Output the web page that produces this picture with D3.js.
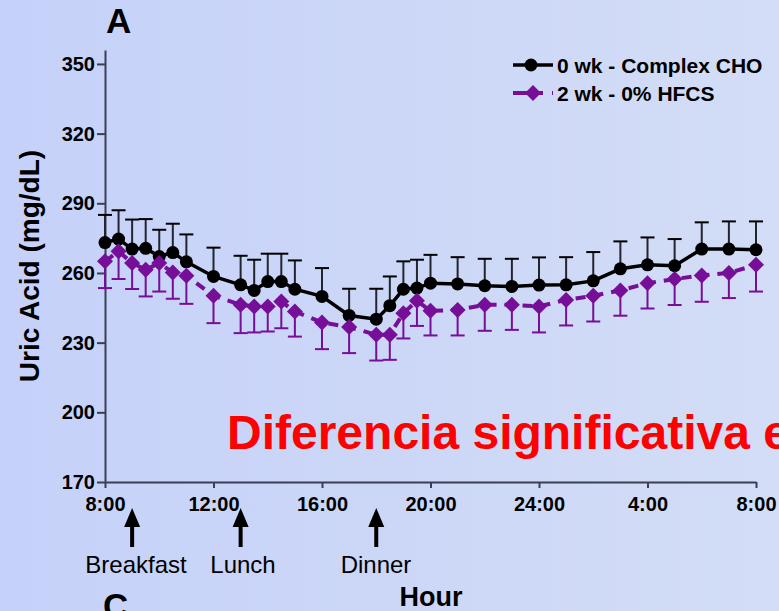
<!DOCTYPE html>
<html>
<head>
<meta charset="utf-8">
<script src="https://cdn.jsdelivr.net/npm/d3@7/dist/d3.min.js"></script>
<style>
  html, body { margin: 0; padding: 0; }
  svg { display: block; }
  text { font-family: "Liberation Sans", Arial, sans-serif; }
</style>
</head>
<body>
<script>
// Hours after 8:00 at which uric acid was sampled
const hours = [0, 0.5, 1, 1.5, 2, 2.5, 3, 4, 5, 5.5, 6, 6.5, 7, 8, 9, 10, 10.5, 11, 11.5,
               12, 13, 14, 15, 16, 17, 18, 19, 20, 21, 22, 23, 24];

// 0 wk - Complex CHO: mean and SEM (mg/dL)
const complexMean = [273.1, 274.6, 270.3, 270.6, 267.1, 268.8, 264.8, 258.5, 254.9, 252.5, 256.3, 256.3, 253.0,
                     249.9, 241.7, 240.1, 245.9, 253.0, 253.5, 255.6, 255.3, 254.5, 254.2, 254.8, 254.9, 256.6,
                     261.8, 263.5, 263.1, 270.3, 270.3, 270.0];
const complexSem  = [11.9, 12.4, 12.7, 12.6, 11.5, 12.4, 11.8, 12.4, 12.5, 13.2, 12.0, 12.0, 12.4,
                     12.2, 11.5, 13.1, 12.6, 12.0, 12.2, 12.2, 11.5, 11.6, 11.9, 11.9, 11.9, 12.4,
                     11.8, 11.8, 11.5, 11.5, 11.9, 12.2];

// 2 wk - 0% HFCS: mean and SEM (mg/dL)
const hfcsMean = [265.0, 269.3, 264.3, 261.4, 264.3, 260.2, 258.8, 250.2, 246.3, 245.6, 245.6, 247.7, 243.4,
                  238.7, 236.7, 233.4, 233.4, 242.7, 248.0, 243.7, 244.1, 246.3, 246.3, 245.6, 248.4, 250.2,
                  252.5, 255.6, 257.4, 258.9, 260.0, 263.5];
const hfcsSem  = [11.5, 11.9, 11.2, 11.5, 12.3, 11.3, 12.1, 11.8, 12.2, 11.2, 10.8, 11.5, 10.8,
                  11.5, 11.2, 11.1, 10.8, 10.9, 10.8, 10.6, 11.0, 11.2, 10.8, 11.2, 11.0, 11.1,
                  10.9, 10.9, 11.2, 11.3, 10.8, 11.5];

// Axis ticks
const xTickHours  = [0, 4, 8, 12, 16, 20, 24];
const xTickLabels = ["8:00", "12:00", "16:00", "20:00", "24:00", "4:00", "8:00"];
const yTicks = [170, 200, 230, 260, 290, 320, 350];

// Meals marked under the axis
const mealNames = ["Breakfast", "Lunch", "Dinner"];
const mealHours = [1, 5, 10];

const seriesNames = ["0 wk - Complex CHO", "2 wk - 0% HFCS"];

const W = 779, H = 611;
const BLACK = "#000000", PURPLE = "#770e98", AXIS = "#3b3f52";

const svg = d3.select("body").append("svg")
  .attr("width", W).attr("height", H);

const defs = svg.append("defs");
const grad = defs.append("linearGradient").attr("id", "bg")
  .attr("x1", "0").attr("y1", "0").attr("x2", "1").attr("y2", "0");
grad.append("stop").attr("offset", "0").attr("stop-color", "#c5d1f9");
grad.append("stop").attr("offset", "1").attr("stop-color", "#d3ddf6");
svg.append("rect").attr("width", W).attr("height", H).attr("fill", "url(#bg)");

const x = d3.scaleLinear().domain([0, 24]).range([105, 756]);
const y = d3.scaleLinear().domain([170, 356]).range([482, 50]);

// Panel letters
svg.append("text").attr("x", 106).attr("y", 33)
  .attr("font-size", 35).attr("font-weight", "bold").text("A");
svg.append("text").attr("x", 103).attr("y", 618)
  .attr("font-size", 35).attr("font-weight", "bold").text("C");

// Axes
const yAxis = svg.append("g").attr("transform", "translate(105,0)")
  .call(d3.axisLeft(y).tickValues(yTicks).tickSize(8).tickSizeOuter(0).tickPadding(2));
const xAxis = svg.append("g").attr("transform", "translate(0,482)")
  .call(d3.axisBottom(x).tickValues(xTickHours).tickFormat((d, i) => xTickLabels[i])
        .tickSize(6).tickSizeOuter(0).tickPadding(9));
[yAxis, xAxis].forEach(a => {
  a.select(".domain").attr("stroke", AXIS).attr("stroke-width", 2);
  a.selectAll(".tick line").attr("stroke", AXIS).attr("stroke-width", 2);
  a.selectAll(".tick text").attr("fill", "#000").attr("font-size", 20).attr("font-weight", "bold")
    .attr("font-family", "Liberation Sans, Arial, sans-serif");
});

// Axis titles
svg.append("text").attr("transform", "translate(39,266) rotate(-90)")
  .attr("text-anchor", "middle").attr("font-size", 28).attr("font-weight", "bold")
  .text("Uric Acid (mg/dL)");
svg.append("text").attr("x", 431).attr("y", 606).attr("text-anchor", "middle")
  .attr("font-size", 27).attr("font-weight", "bold").text("Hour");

// Meal arrows and names
const meals = svg.append("g");
mealHours.forEach((h, i) => {
  const cx = x(h);
  meals.append("rect").attr("x", cx - 2).attr("y", 522).attr("width", 4).attr("height", 25).attr("fill", "#000");
  meals.append("path").attr("d", `M${cx},508 L${cx - 8},527 L${cx + 8},527 Z`).attr("fill", "#000");
});
const mealCenters = [136, 243, 376];
mealNames.forEach((n, i) => {
  meals.append("text").attr("x", mealCenters[i]).attr("y", 573).attr("text-anchor", "middle")
    .attr("font-size", 24).text(n);
});

// Series data
const complex = hours.map((h, i) => ({ h, m: complexMean[i], s: complexSem[i] }));
const hfcs = hours.map((h, i) => ({ h, m: hfcsMean[i], s: hfcsSem[i] }));

const line = d3.line().x(d => x(d.h)).y(d => y(d.m));

// Complex CHO: upward error bars, solid line, circles
const gC = svg.append("g");
gC.selectAll("line.stem").data(complex).join("line")
  .attr("x1", d => x(d.h)).attr("x2", d => x(d.h))
  .attr("y1", d => y(d.m)).attr("y2", d => y(d.m + d.s))
  .attr("stroke", "#22252e").attr("stroke-width", 2);
gC.selectAll("line.cap").data(complex).join("line")
  .attr("x1", d => x(d.h) - 7).attr("x2", d => x(d.h) + 7)
  .attr("y1", d => y(d.m + d.s)).attr("y2", d => y(d.m + d.s))
  .attr("stroke", "#000").attr("stroke-width", 2);
gC.append("path").datum(complex).attr("d", line)
  .attr("fill", "none").attr("stroke", BLACK).attr("stroke-width", 3.5);
gC.selectAll("circle").data(complex).join("circle")
  .attr("cx", d => x(d.h)).attr("cy", d => y(d.m)).attr("r", 6.5).attr("fill", BLACK);

// 0% HFCS: downward error bars, dashed line, diamonds
const gH = svg.append("g");
gH.selectAll("line.stem").data(hfcs).join("line")
  .attr("x1", d => x(d.h)).attr("x2", d => x(d.h))
  .attr("y1", d => y(d.m)).attr("y2", d => y(d.m - d.s))
  .attr("stroke", PURPLE).attr("stroke-width", 2);
gH.selectAll("line.cap").data(hfcs).join("line")
  .attr("x1", d => x(d.h) - 7).attr("x2", d => x(d.h) + 7)
  .attr("y1", d => y(d.m - d.s)).attr("y2", d => y(d.m - d.s))
  .attr("stroke", PURPLE).attr("stroke-width", 2);
gH.append("path").datum(hfcs).attr("d", line)
  .attr("fill", "none").attr("stroke", PURPLE).attr("stroke-width", 4)
  .attr("stroke-dasharray", "10,8");
const diamond = "M0,-8 L8,0 L0,8 L-8,0 Z";
gH.selectAll("path.dia").data(hfcs).join("path").attr("class", "dia")
  .attr("transform", d => `translate(${x(d.h)},${y(d.m)})`)
  .attr("d", diamond).attr("fill", PURPLE);

// Legend
const lg = svg.append("g");
lg.append("line").attr("x1", 513).attr("x2", 553).attr("y1", 65).attr("y2", 65)
  .attr("stroke", BLACK).attr("stroke-width", 3.5);
lg.append("circle").attr("cx", 531).attr("cy", 65).attr("r", 6.5).attr("fill", BLACK);
lg.append("line").attr("x1", 513).attr("x2", 553).attr("y1", 93).attr("y2", 93)
  .attr("stroke", PURPLE).attr("stroke-width", 4).attr("stroke-dasharray", "30,9,2");
lg.append("path").attr("transform", "translate(533,93)").attr("d", diamond).attr("fill", PURPLE);
seriesNames.forEach((n, i) => {
  lg.append("text").attr("x", 557).attr("y", 73 + i * 28).attr("font-size", 21)
    .attr("font-weight", "bold").text(n);
});

// Annotation
svg.append("text").attr("x", 227).attr("y", 449).attr("font-size", 48)
  .attr("font-weight", "bold").attr("fill", "#ff0000").text("Diferencia significativa e");
</script>
</body>
</html>
